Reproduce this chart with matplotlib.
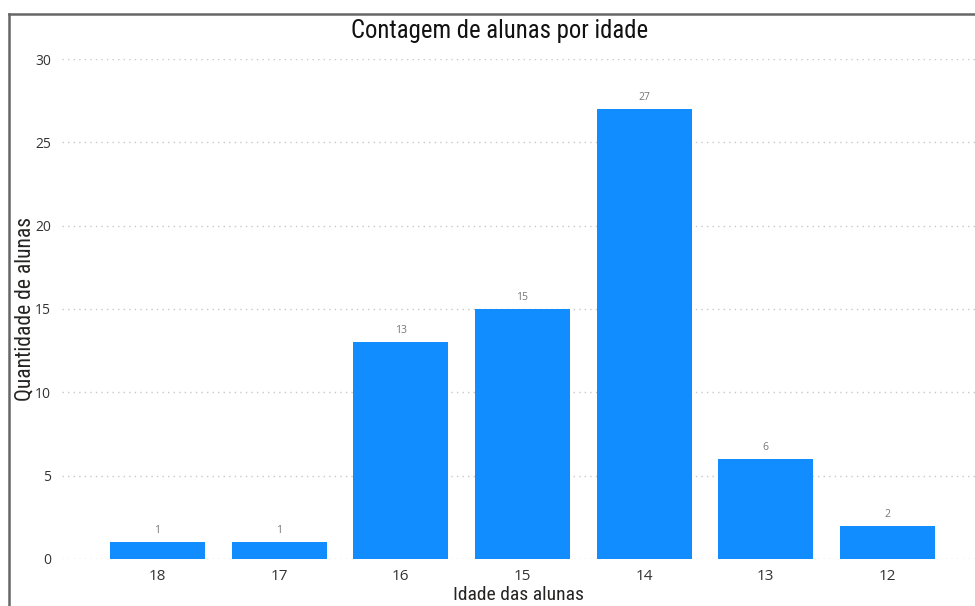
import matplotlib.pyplot as plt
from matplotlib.lines import Line2D

# data
idades = ['18', '17', '16', '15', '14', '13', '12']
contagem = [1, 1, 13, 15, 27, 6, 2]
yticks = [0, 5, 10, 15, 20, 25, 30]

cond = ['DejaVu Sans Condensed', 'Liberation Sans Narrow', 'Roboto Condensed', 'Roboto', 'DejaVu Sans']
plt.rcParams['font.family'] = ['Open Sans', 'DejaVu Sans']

f = plt.figure(figsize=(9.75, 6.06), dpi=100)
ax = f.add_axes([0.0636, 0.0776, 0.9364, 0.825])

x = range(len(idades))
bars = ax.bar(x, contagem, width=0.78, color='#118DFF', zorder=3)

for b, v in zip(bars, contagem):
    ax.text(b.get_x() + b.get_width() / 2, v + 0.35, str(v), ha='center', va='bottom',
            fontsize=7.5, color='#777777')

ax.set_xlim(-0.785, 6.72)
ax.set_ylim(0, 30)
ax.set_xticks(list(x))
ax.set_xticklabels(idades, fontsize=11, color='#333333')
ax.set_yticks(yticks)
ax.set_yticklabels([str(t) for t in yticks], fontsize=10, color='#333333')
ax.tick_params(axis='both', length=0)
ax.tick_params(axis='x', pad=7)
ax.tick_params(axis='y', pad=8)

ax.yaxis.grid(True, linestyle=(0, (1, 3)), color='#c8c8c8', linewidth=1, zorder=0)
for s in ax.spines.values():
    s.set_visible(False)

ax.set_xlabel('Idade das alunas', fontsize=14, color='#252423', family=cond, labelpad=2)
ax.set_ylabel('Quantidade de alunas', fontsize=15.5, color='#252423', family=cond, va='center')
ax.yaxis.set_label_coords(-0.0405, 0.5)

f.text(0.512, 0.949, 'Contagem de alunas por idade', ha='center', va='center',
       fontsize=17.8, color='#111111', family=cond)

# frame lines
f.add_artist(Line2D([0.009, 1.0], [0.977, 0.977], transform=f.transFigure, color='#666666', lw=1.8))
f.add_artist(Line2D([0.009, 0.009], [0.0, 0.977], transform=f.transFigure, color='#666666', lw=1.8))

f.savefig('out.png', dpi=100, facecolor='white')
